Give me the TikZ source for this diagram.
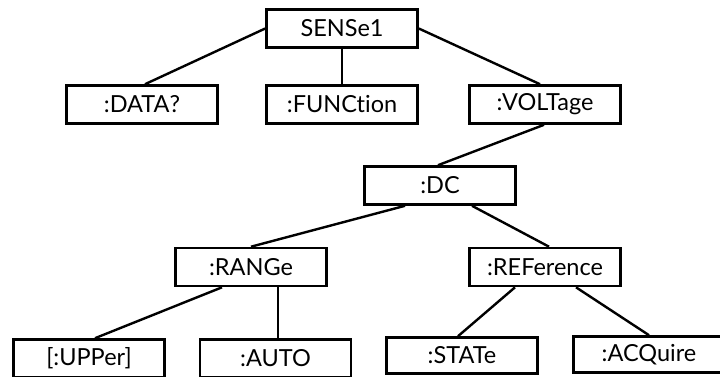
\documentclass[tikz,border=0pt]{standalone}
\usepackage{fontspec}
\setmainfont{Lato}[Ligatures={NoCommon}]
\begin{document}
\begin{tikzpicture}[x=1pt,y=-1pt,
  box/.style={draw=black,line width=2.6pt,rectangle,minimum width=151pt,minimum height=38pt,inner sep=0pt,font=\fontsize{23.5}{27}\selectfont},
  conn/.style={draw=black,line width=2.4pt}]
\useasboundingbox (0,0) rectangle (720,376);
\node[box] (sense) at (342,28.5) {SENSe1};
\node[box] (data) at (142,104.5) {:DATA?};
\node[box] (func) at (342,104.5) {:FUNCtion};
\node[box] (volt) at (545,104.5) {:VOLTage};
\node[box] (dc) at (440,185.5) {:DC};
\node[box] (range) at (251,267) {:RANGe};
\node[box] (ref) at (545,267) {:REFerence};
\node[box] (upper) at (89,358.5) {[:UPPer]};
\node[box] (auto) at (275.5,358.5) {:AUTO};
\node[box,minimum height=36pt] (state) at (462,355.5) {:STATe};
\node[box,minimum height=36pt] (acq) at (649,354.5) {:ACQuire};
\draw[conn] (sense.west) -- ([xshift=3pt]data.north);
\draw[conn] (sense.south) -- (func.north);
\draw[conn] (sense.east) -- ([xshift=-5pt]volt.north);
\draw[conn] ([xshift=-1pt]volt.south) -- ([xshift=-2pt]dc.north);
\draw[conn] ([xshift=-35pt]dc.south) -- (range.north);
\draw[conn] ([xshift=32pt]dc.south) -- ([xshift=4pt]ref.north);
\draw[conn] ([xshift=-29pt]range.south) -- ([xshift=6pt]upper.north);
\draw[conn] ([xshift=27pt]range.south) -- ([xshift=2.5pt]auto.north);
\draw[conn] ([xshift=-30pt]ref.south) -- ([xshift=-4pt]state.north);
\draw[conn] ([xshift=31pt]ref.south) -- (acq.north);
\end{tikzpicture}
\end{document}
